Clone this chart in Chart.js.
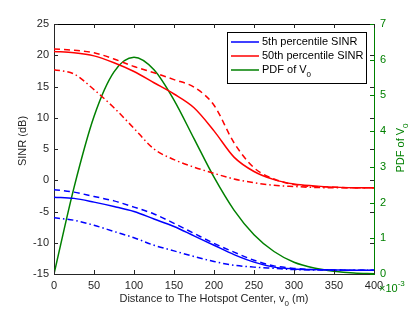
<!DOCTYPE html>
<html>
<head>
<meta charset="utf-8">
<script src="https://cdn.jsdelivr.net/npm/chart.js@4.4.1/dist/chart.umd.min.js"></script>
<style>
  html, body { margin: 0; padding: 0; background: #fff; }
  #wrap { width: 415px; height: 312px; }
</style>
</head>
<body>
<div id="wrap"><canvas id="chart" width="415" height="312"></canvas></div>
<script>
// distance to hotspot center (m)
const distance = [0, 25, 50, 75, 100, 125, 150, 175, 200, 225, 250, 275, 300, 325, 350, 375, 400];

// 5th percentile SINR (dB): solid, dashed, dash-dot
const sinr5Solid   = [-2.7, -2.9, -3.5, -4.2, -5.0, -6.2, -7.4, -8.9, -10.4, -11.9, -13.1, -13.9, -14.2, -14.3, -14.35, -14.4, -14.4];
const sinr5Dashed  = [-1.5, -1.9, -2.6, -3.3, -4.3, -5.4, -6.9, -8.5, -10.1, -11.5, -12.8, -13.7, -14.1, -14.3, -14.35, -14.4, -14.4];
const sinr5DashDot = [-6.0, -6.4, -7.2, -8.2, -9.2, -10.4, -11.3, -12.2, -13.0, -13.6, -13.9, -14.1, -14.3, -14.35, -14.4, -14.4, -14.4];

// 50th percentile SINR (dB): solid, dashed, dash-dot
const sinr50Solid   = [20.6, 20.4, 19.9, 18.8, 17.4, 15.6, 13.8, 11.6, 7.9, 3.7, 1.4, 0.1, -0.6, -0.9, -1.1, -1.2, -1.2];
const sinr50Dashed  = [21.0, 20.8, 20.4, 19.4, 18.2, 17.2, 16.1, 14.9, 12.0, 6.0, 2.0, 0.2, -0.7, -1.0, -1.1, -1.2, -1.2];
const sinr50DashDot = [17.7, 17.0, 14.5, 11.6, 8.3, 5.0, 3.3, 2.1, 1.1, 0.2, -0.4, -0.8, -1.0, -1.15, -1.2, -1.2, -1.2];

// PDF of V0 (x 10^-3)
const pdfV0 = [0, 2.42, 4.41, 5.66, 6.07, 5.72, 4.87, 3.79, 2.71, 1.79, 1.10, 0.63, 0.33, 0.17, 0.08, 0.03, 0.01];

const legendLabels = ['5th percentile SINR', '50th percentile SINR', 'PDF of V'];

const BLUE = 'rgb(0,0,255)';
const RED = 'rgb(255,0,0)';
const GREEN = 'rgb(0,128,0)';
const INK = '#262626';
const FONT = '"Liberation Sans", Arial, sans-serif';

const dashed = [6, 4];
const dashDot = [6, 3, 1.5, 3];

function pts(ys) {
  return distance.map((d, i) => ({ x: d, y: ys[i] }));
}

function line(ys, color, dash, axis) {
  return {
    data: pts(ys),
    borderColor: color,
    backgroundColor: color,
    borderWidth: 1.5,
    borderDash: dash,
    pointRadius: 0,
    fill: false,
    cubicInterpolationMode: 'monotone',
    yAxisID: axis || 'y'
  };
}

const datasets = [
  line(sinr5Solid, BLUE, []),
  line(sinr5Dashed, BLUE, dashed),
  line(sinr5DashDot, BLUE, dashDot),
  line(sinr50Solid, RED, []),
  line(sinr50Dashed, RED, dashed),
  line(sinr50DashDot, RED, dashDot),
  line(pdfV0, GREEN, [], 'y2')
];

// inward ticks, top frame, titles, legend
const decor = {
  id: 'decor',
  afterDraw(chart) {
    const ctx = chart.ctx;
    const a = chart.chartArea;
    const sx = chart.scales.x, sy = chart.scales.y, s2 = chart.scales.y2;
    ctx.save();
    ctx.lineWidth = 1;
    // top frame
    ctx.strokeStyle = '#000';
    ctx.beginPath();
    ctx.moveTo(a.left, a.top + 0.5);
    ctx.lineTo(a.right, a.top + 0.5);
    ctx.stroke();
    // x ticks
    ctx.strokeStyle = INK;
    ctx.beginPath();
    sx.ticks.forEach(t => {
      const px = Math.round(sx.getPixelForValue(t.value)) + 0.5;
      ctx.moveTo(px, a.bottom); ctx.lineTo(px, a.bottom - 4);
      ctx.moveTo(px, a.top); ctx.lineTo(px, a.top + 4);
    });
    // left y ticks (mirrored right)
    sy.ticks.forEach(t => {
      const py = Math.round(sy.getPixelForValue(t.value)) + 0.5;
      ctx.moveTo(a.left, py); ctx.lineTo(a.left + 4, py);
      ctx.moveTo(a.right, py); ctx.lineTo(a.right - 4, py);
    });
    ctx.stroke();
    // right y2 ticks
    ctx.strokeStyle = GREEN;
    ctx.beginPath();
    s2.ticks.forEach(t => {
      const py = Math.round(s2.getPixelForValue(t.value)) + 0.5;
      ctx.moveTo(a.right, py); ctx.lineTo(a.right - 4, py);
    });
    ctx.stroke();

    // axis titles
    ctx.textBaseline = 'middle';
    ctx.fillStyle = INK;
    const xt = 'Distance to The Hotspot Center, v';
    const sub = '0';
    const tail = ' (m)';
    ctx.font = '11px ' + FONT;
    const w1 = ctx.measureText(xt).width;
    const w3 = ctx.measureText(tail).width;
    ctx.font = '8px ' + FONT;
    const w2 = ctx.measureText(sub).width;
    const x0 = (a.left + a.right) / 2 - (w1 + w2 + w3) / 2;
    const yt = 299;
    ctx.textAlign = 'left';
    ctx.font = '11px ' + FONT;
    ctx.fillText(xt, x0, yt);
    ctx.font = '8px ' + FONT;
    ctx.fillText(sub, x0 + w1, yt + 5);
    ctx.font = '11px ' + FONT;
    ctx.fillText(tail, x0 + w1 + w2, yt);

    // left title
    ctx.save();
    ctx.translate(23, 141);
    ctx.rotate(-Math.PI / 2);
    ctx.textAlign = 'center';
    ctx.fillText('SINR (dB)', 0, 0);
    ctx.restore();

    // right title
    ctx.save();
    ctx.fillStyle = GREEN;
    ctx.translate(401, 148);
    ctx.rotate(-Math.PI / 2);
    ctx.font = '11px ' + FONT;
    const r1 = ctx.measureText('PDF of V').width;
    ctx.font = '8px ' + FONT;
    const r2 = ctx.measureText('0').width;
    const rx = -(r1 + r2) / 2;
    ctx.textAlign = 'left';
    ctx.font = '11px ' + FONT;
    ctx.fillText('PDF of V', rx, 0);
    ctx.font = '8px ' + FONT;
    ctx.fillText('0', rx + r1, 5);
    ctx.restore();

    // exponent label
    ctx.fillStyle = GREEN;
    ctx.textAlign = 'left';
    ctx.font = '11px ' + FONT;
    ctx.fillText('\u00d710', 379, 289);
    const we = ctx.measureText('\u00d710').width;
    ctx.font = '8px ' + FONT;
    ctx.fillText('-3', 379 + we, 284);

    // legend
    const lx = 227, ly = 32, lw = 139, lh = 51;
    ctx.fillStyle = '#fff';
    ctx.fillRect(lx, ly, lw, lh);
    ctx.strokeStyle = '#000';
    ctx.lineWidth = 1;
    ctx.strokeRect(lx + 0.5, ly + 0.5, lw, lh);
    const items = [0, 3, 6];
    const rows = [42, 56, 70];
    items.forEach((di, k) => {
      const ds = chart.data.datasets[di];
      ctx.strokeStyle = ds.borderColor;
      ctx.lineWidth = 1.5;
      ctx.beginPath();
      ctx.moveTo(231, rows[k]);
      ctx.lineTo(259, rows[k]);
      ctx.stroke();
      ctx.fillStyle = '#000';
      ctx.font = '11px ' + FONT;
      ctx.textBaseline = 'middle';
      ctx.fillText(legendLabels[k], 262, rows[k]);
      if (k === 2) {
        const wl = ctx.measureText(legendLabels[k]).width;
        ctx.font = '8px ' + FONT;
        ctx.fillText('0', 262 + wl, rows[k] + 5);
      }
    });
    ctx.restore();
  }
};

new Chart(document.getElementById('chart'), {
  type: 'line',
  data: { datasets: datasets },
  options: {
    responsive: false,
    animation: false,
    layout: { padding: { top: 24, left: 0, right: 0, bottom: 0 } },
    plugins: { legend: { display: false }, tooltip: { enabled: false } },
    scales: {
      x: {
        type: 'linear',
        min: 0, max: 400,
        ticks: { stepSize: 50, color: INK, font: { family: FONT, size: 11 }, padding: 5, maxRotation: 0 },
        grid: { display: false, drawTicks: false },
        border: { color: INK, width: 1 },
        afterFit: s => { s.height = 38; }
      },
      y: {
        position: 'left',
        min: -15, max: 25,
        ticks: { stepSize: 5, color: INK, font: { family: FONT, size: 11 }, padding: 5 },
        grid: { display: false, drawTicks: false },
        border: { color: INK, width: 1 },
        afterFit: s => { s.width = 54; }
      },
      y2: {
        position: 'right',
        min: 0, max: 7,
        ticks: { stepSize: 1, color: GREEN, font: { family: FONT, size: 11 }, padding: 6 },
        grid: { display: false, drawTicks: false },
        border: { color: GREEN, width: 1 },
        afterFit: s => { s.width = 41; }
      }
    }
  },
  plugins: [decor]
});
</script>
</body>
</html>
